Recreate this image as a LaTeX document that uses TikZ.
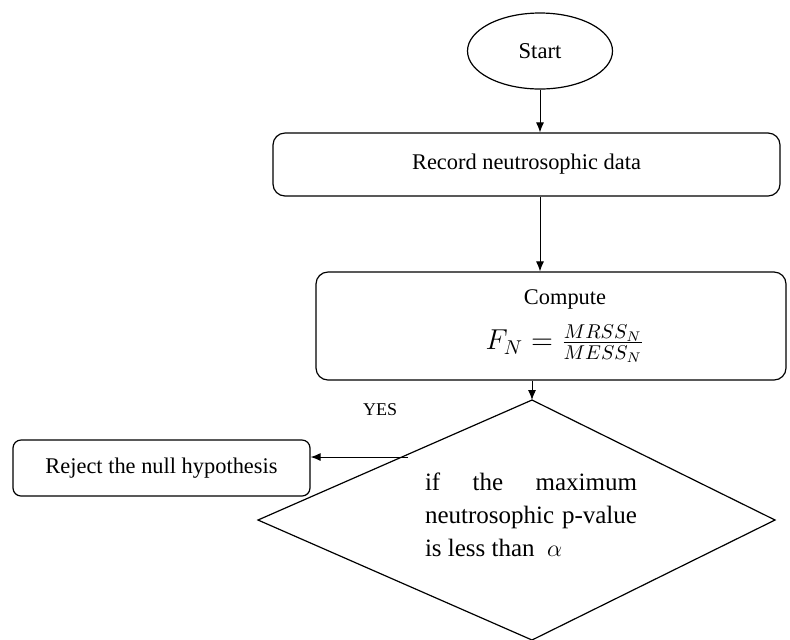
\documentclass[tikz,border=0pt]{standalone}
\usepackage{fontspec}
\setmainfont{Liberation Serif}
\usetikzlibrary{shapes.geometric,arrows.meta}

\begin{document}
\begin{tikzpicture}[x=0.5pt, y=-0.5pt,
		box/.style={draw, rounded corners=6pt, line width=0.6pt, inner sep=0pt, font=\fontsize{11.2}{13}\selectfont},
		flow/.style={draw, -{Latex[length=5pt,width=4pt]}, line width=0.5pt}]
	\useasboundingbox (0,0) rectangle (790,639);
	\node[draw, ellipse, line width=0.6pt, minimum width=72.5pt, minimum height=38pt, inner sep=0pt, font=\fontsize{11.3}{13}\selectfont](start) at (540,51) {Start};
	\node[box, minimum width=253.5pt, minimum height=31.5pt](rec) at (526.5,164.5) {Record neutrosophic data};
	\node[box, minimum width=235pt, minimum height=54pt, align=center](cmp) at (551,326) {\hspace*{14pt}Compute\\[7pt] \hspace*{14pt}{\fontsize{14}{16}\selectfont $F_N=\frac{MRSS_N}{MESS_N}$}};
	%decision
	\coordinate (dtop) at (532,400);
	\coordinate (dright) at (775,520);
	\coordinate (dbot) at (532,640);
	\coordinate (dleft) at (258,520);
	\draw[line width=0.6pt] (dtop) -- (dright) -- (dbot) -- (dleft) -- cycle;
	\node[text width=106pt, align=justify, inner sep=0pt, font=\fontsize{12.5}{16.5}\selectfont](cond) at (531,515) {if the maximum\linebreak neutrosophic p-value\linebreak is less than\ \ $\alpha$};
	\node[font=\fontsize{9}{11}\selectfont](yes) at (380,410) {YES};
	\node[box, rounded corners=4pt, minimum width=148.5pt, minimum height=28pt](rej) at (161.5,468) {Reject the null hypothesis};
	\coordinate (out) at (408,457);
	%arrows
	\draw[flow] (start) -- (start |- rec.north);
	\draw[flow] (start |- rec.south) -- (start |- cmp.north);
	\draw[flow] (dtop |- cmp.south) -- (dtop);
	\draw[flow] (out) -- (out -| rej.east);
\end{tikzpicture}
\end{document}
